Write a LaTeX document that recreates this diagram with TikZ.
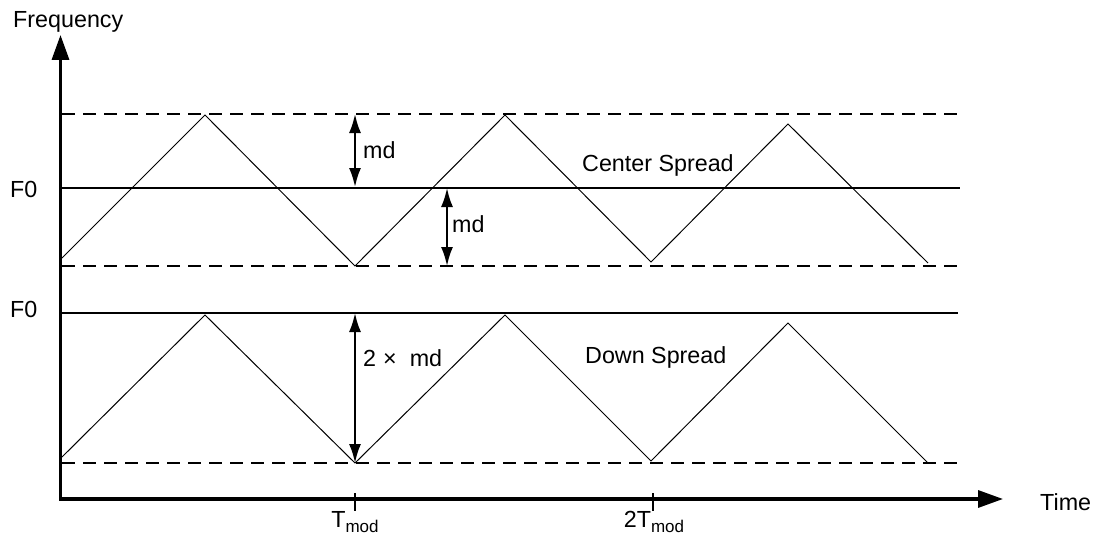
\documentclass[tikz,border=0pt]{standalone}
\usepackage{fontspec}
\setmainfont{Liberation Sans}
\usetikzlibrary{arrows.meta}
\newcommand{\subm}[1]{\raisebox{-5pt}{\fontsize{17}{20}\selectfont #1}}
\begin{document}
\begin{tikzpicture}[x=1pt,y=-1pt,
  lbl/.style={inner sep=0pt, anchor=base west, font=\fontsize{23.3}{28}\selectfont},
  axis/.style={line width=3.3pt, {Triangle[length=25pt,width=17pt]}-{Triangle[length=25pt,width=17pt]}},
  fline/.style={line width=2pt},
  dline/.style={line width=2pt, dash pattern=on 13pt off 8pt},
  wave/.style={line width=1pt, line join=miter},
  dimarrow/.style={line width=2pt, {Latex[length=19pt,width=12pt]}-{Latex[length=19pt,width=12pt]}},
  tickmark/.style={line width=2pt}]
\useasboundingbox (0,0) rectangle (1093,535);
% axes
\coordinate (Ytop) at (60.5,35);
\coordinate (O) at (60.5,499);
\coordinate (Xend) at (1003,499);
\draw[axis] (Ytop) -- (O) -- (Xend);
% reference lines
\coordinate (d1s) at (62,114); \coordinate (d1e) at (963,114);
\coordinate (f1s) at (62,188); \coordinate (f1e) at (960,188);
\coordinate (d2s) at (62,266); \coordinate (d2e) at (963,266);
\coordinate (f2s) at (62,313); \coordinate (f2e) at (958,313);
\coordinate (d3s) at (62,463); \coordinate (d3e) at (963,463);
\draw[dline] (d1s) -- (d1e);
\draw[fline] (f1s) -- (f1e);
\draw[dline] (d2s) -- (d2e);
\draw[fline] (f2s) -- (f2e);
\draw[dline] (d3s) -- (d3e);
% center spread wave
\coordinate (a0) at (62,258);
\coordinate (a1) at (205,115);
\coordinate (a2) at (355,266);
\coordinate (a3) at (505,115);
\coordinate (a4) at (651,262);
\coordinate (a5) at (788,124);
\coordinate (a6) at (928,263);
\draw[wave] (a0) -- (a1) -- (a2) -- (a3) -- (a4) -- (a5) -- (a6);
% down spread wave
\coordinate (b0) at (62,457);
\coordinate (b1) at (205,315);
\coordinate (b2) at (355,463);
\coordinate (b3) at (505,315);
\coordinate (b4) at (651,461);
\coordinate (b5) at (788,323);
\coordinate (b6) at (928,463);
\draw[wave] (b0) -- (b1) -- (b2) -- (b3) -- (b4) -- (b5) -- (b6);
% dimension arrows
\coordinate (m1a) at (355,114); \coordinate (m1b) at (355,187);
\coordinate (m2a) at (447,188); \coordinate (m2b) at (447,266);
\coordinate (m3a) at (355,313); \coordinate (m3b) at (355,463);
\draw[dimarrow] (m1a) -- (m1b);
\draw[dimarrow] (m2a) -- (m2b);
\draw[dimarrow] (m3a) -- (m3b);
% ticks
\coordinate (t1a) at (355,493); \coordinate (t1b) at (355,511);
\coordinate (t2a) at (653,493); \coordinate (t2b) at (653,511);
\draw[tickmark] (t1a) -- (t1b);
\draw[tickmark] (t2a) -- (t2b);
% labels
\node[lbl] (freq) at (13,28) {Frequency};
\node[lbl] (time) at (1040,510) {Time};
\node[lbl] (f0a) at (10,197) {F0};
\node[lbl] (f0b) at (10,317) {F0};
\node[lbl] (md1) at (363,158) {md};
\node[lbl] (md2) at (452,232) {md};
\node[lbl] (md3) at (363,366) {2\hspace{7pt}×\hspace{13pt}md};
\node[lbl] (cs) at (582,171) {Center Spread};
\node[lbl] (ds) at (585,363) {Down Spread};
\node[lbl, anchor=base] (tm1) at (355,527) {T\subm{mod}};
\node[lbl, anchor=base] (tm2) at (654,527) {2T\subm{mod}};
\end{tikzpicture}
\end{document}
